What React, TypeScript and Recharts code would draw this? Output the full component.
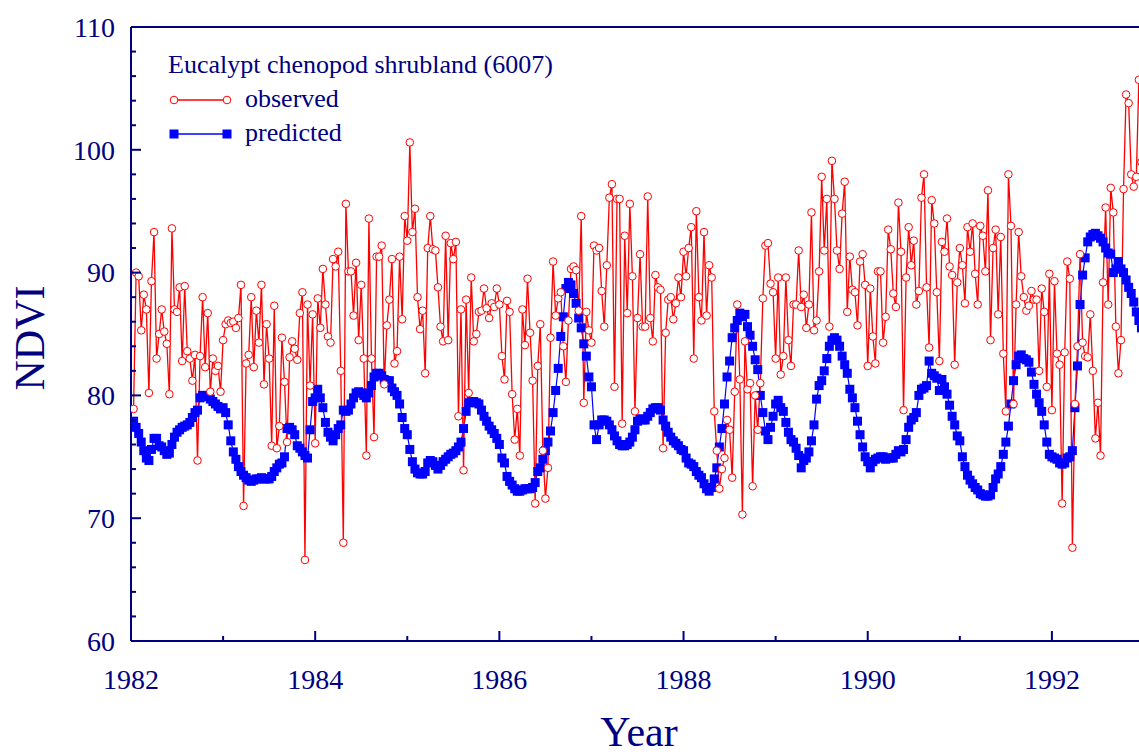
import React from 'react';
import { LineChart, Line, XAxis, YAxis, ReferenceLine, Legend } from 'recharts';

const NAVY = '#000080';
const RED = '#ff0000';
const BLUE = '#0000ff';
const FONT = '"Liberation Serif", "Times New Roman", serif';

// 10-day composites: 36 slots per year, series begins at the second slot of 1982
const SLOTS_PER_YEAR = 36;
const FIRST_SLOT = 1;
const START_YEAR = 1982;

const xTicks = [1982, 1983, 1984, 1985, 1986, 1987, 1988, 1989, 1990, 1991, 1992, 1993];
const yTicks = [60, 62, 64, 66, 68, 70, 72, 74, 76, 78, 80, 82, 84, 86, 88, 90, 92, 94, 96, 98, 100, 102, 104, 106, 108, 110];

// observed NDVI, one array per year
const obs1982 = [78.9, 90.0, 89.7, 85.3, 88.2, 87.0, 80.2, 89.3, 93.3, 83.0, 85.0, 87.0, 85.2, 84.2, 80.1, 93.6, 87.0, 86.8, 88.8, 82.8, 88.9, 83.6, 83.0, 81.2, 83.3, 74.7, 83.2, 88.0, 82.3, 86.7, 80.3, 83.0, 82.0, 82.4, 80.3];
const obs1983 = [84.5, 85.8, 86.1, 85.9, 86.0, 85.5, 86.3, 89.0, 71.0, 82.6, 83.3, 88.0, 82.3, 86.9, 84.3, 89.0, 80.9, 85.8, 83.0, 75.9, 87.3, 75.7, 77.5, 84.7, 81.1, 76.2, 83.1, 84.4, 83.8, 82.9, 86.7, 88.4, 66.6, 87.4, 80.8, 86.6];
const obs1984 = [76.1, 87.9, 85.5, 90.3, 87.4, 84.8, 84.3, 91.1, 90.5, 91.7, 82.0, 68.0, 95.6, 90.1, 90.1, 86.5, 90.8, 84.5, 89.0, 83.0, 75.1, 94.4, 83.0, 76.6, 91.3, 91.3, 92.2, 80.9, 85.7, 87.8, 91.1, 82.6, 83.6, 91.3, 86.2, 94.6];
const obs1985 = [92.6, 100.6, 93.3, 95.2, 88.0, 85.4, 86.9, 81.8, 92.0, 94.6, 91.9, 91.8, 88.8, 85.6, 84.4, 93.0, 84.5, 92.4, 91.1, 92.5, 78.3, 87.0, 73.9, 87.8, 80.2, 89.6, 84.4, 85.0, 86.8, 86.9, 88.7, 87.1, 86.3, 87.5, 87.2, 88.7];
const obs1986 = [87.4, 83.2, 81.3, 87.7, 86.8, 80.1, 76.4, 78.9, 75.1, 87.0, 84.1, 89.5, 85.1, 81.2, 71.2, 82.4, 85.8, 75.5, 71.6, 74.1, 84.7, 90.9, 86.5, 87.9, 88.4, 84.0, 81.1, 86.1, 90.3, 90.5, 90.2, 86.9, 94.6, 79.4, 86.8, 85.3];
const obs1987 = [84.3, 92.2, 91.8, 92.0, 88.5, 85.6, 90.6, 96.1, 97.2, 80.7, 96.0, 96.0, 77.7, 93.0, 86.7, 95.6, 89.7, 78.7, 86.3, 91.5, 85.6, 85.6, 96.2, 86.3, 84.4, 89.8, 88.8, 88.6, 75.7, 85.1, 87.8, 88.0, 86.2, 87.5, 89.6, 88.0];
const obs1988 = [91.7, 89.7, 92.0, 93.7, 83.0, 95.0, 88.0, 86.1, 93.3, 86.5, 90.6, 89.6, 78.7, 75.5, 72.4, 74.0, 74.9, 78.0, 77.2, 73.3, 80.3, 87.4, 81.3, 70.3, 84.4, 80.5, 81.0, 72.6, 80.0, 77.2, 81.0, 87.9, 92.2, 92.4, 89.1, 88.4];
const obs1989 = [83.0, 89.6, 81.7, 83.2, 89.6, 84.5, 82.4, 87.4, 87.4, 91.8, 87.2, 88.2, 85.5, 87.4, 94.9, 85.3, 86.1, 90.1, 97.8, 91.8, 96.0, 85.6, 99.1, 96.0, 91.8, 90.3, 94.8, 97.4, 86.8, 91.3, 88.6, 88.4, 85.7, 90.9, 91.5, 89.0];
const obs1990 = [82.4, 88.7, 84.8, 82.6, 90.1, 90.1, 84.3, 86.4, 93.5, 91.9, 88.3, 87.2, 95.7, 91.7, 78.8, 89.6, 93.7, 90.6, 92.6, 87.4, 88.5, 96.1, 98.0, 88.8, 83.9, 95.9, 94.0, 88.4, 82.8, 92.5, 91.7, 94.4, 90.5, 89.8, 82.5, 89.2];
const obs1991 = [92.0, 90.6, 87.5, 93.7, 91.7, 94.0, 89.9, 87.4, 93.8, 93.0, 90.1, 96.7, 84.5, 92.0, 93.5, 86.6, 92.9, 83.4, 78.7, 98.0, 93.8, 79.3, 87.4, 93.3, 89.7, 88.0, 86.9, 87.3, 88.5, 87.8, 87.8, 82.0, 88.7, 86.8, 80.7, 89.9];
const obs1992 = [78.8, 89.3, 83.4, 82.5, 71.2, 83.5, 90.9, 89.5, 67.6, 79.3, 84.0, 91.5, 84.3, 83.2, 83.1, 86.6, 82.0, 76.5, 79.4, 75.1, 89.2, 95.3, 87.4, 96.9, 94.9, 85.6, 81.8, 84.5, 96.8, 104.5, 103.8, 98.0, 97.0, 97.8, 105.7, 99.0];

// predicted NDVI, one array per year
const pred1982 = [77.9, 77.4, 76.9, 76.2, 75.5, 74.9, 74.7, 75.6, 76.5, 76.5, 75.9, 75.8, 75.5, 75.2, 75.3, 76.0, 76.6, 77.0, 77.2, 77.4, 77.5, 77.6, 77.8, 78.2, 78.6, 78.8, 79.8, 80.0, 80.0, 79.9, 79.7, 79.5, 79.3, 79.1, 78.9];
const pred1983 = [79.0, 78.6, 77.6, 76.3, 75.4, 74.8, 74.2, 73.8, 73.5, 73.3, 73.1, 73.0, 73.1, 73.2, 73.2, 73.3, 73.2, 73.2, 73.2, 73.4, 73.8, 74.1, 74.4, 74.5, 75.0, 77.3, 77.4, 77.2, 76.8, 75.9, 75.7, 75.4, 75.1, 74.9, 77.2, 79.5];
const pred1984 = [79.8, 80.5, 79.8, 79.0, 77.8, 77.0, 76.6, 76.3, 76.8, 77.3, 77.6, 78.8, 78.7, 78.8, 79.3, 79.8, 80.2, 80.3, 80.2, 80.0, 79.8, 80.2, 80.8, 81.5, 81.8, 81.8, 81.6, 81.3, 81.2, 81.2, 80.6, 80.3, 80.0, 79.3, 78.2, 77.3];
const pred1985 = [76.8, 75.6, 74.6, 74.0, 73.7, 73.6, 73.6, 73.8, 74.5, 74.7, 74.6, 74.3, 74.0, 74.3, 74.6, 74.8, 75.0, 75.2, 75.3, 75.5, 75.8, 76.2, 77.3, 78.7, 79.4, 79.5, 79.5, 79.4, 79.3, 78.8, 78.3, 77.9, 77.5, 77.2, 76.9, 76.5];
const pred1986 = [76.0, 74.9, 74.5, 73.4, 73.0, 72.7, 72.4, 72.2, 72.2, 72.3, 72.4, 72.4, 72.4, 72.5, 72.9, 73.8, 74.1, 74.8, 75.5, 76.2, 77.1, 78.6, 80.4, 82.2, 84.8, 86.4, 88.7, 89.2, 89.0, 88.3, 87.5, 86.3, 85.5, 84.2, 83.2, 81.5];
const pred1987 = [80.7, 77.6, 76.4, 77.6, 78.0, 78.0, 77.9, 77.6, 77.2, 76.7, 76.3, 76.0, 75.9, 75.9, 76.0, 76.2, 76.6, 77.2, 77.9, 78.1, 78.0, 78.0, 78.3, 78.6, 78.9, 79.0, 79.0, 78.8, 78.0, 77.5, 77.0, 76.6, 76.3, 76.1, 75.9, 75.6];
const pred1988 = [75.5, 74.9, 74.5, 74.4, 74.2, 73.8, 73.5, 73.3, 72.8, 72.4, 72.2, 72.5, 73.2, 74.1, 75.8, 77.3, 79.3, 81.5, 82.8, 84.7, 85.5, 86.1, 86.7, 86.4, 86.6, 85.6, 84.9, 84.0, 82.9, 82.1, 80.0, 78.6, 77.1, 76.4, 77.4, 78.3];
const pred1989 = [79.3, 79.6, 79.0, 78.7, 77.8, 77.0, 76.4, 76.2, 75.7, 75.1, 74.1, 74.7, 74.9, 75.4, 76.3, 77.6, 79.7, 80.8, 81.2, 82.0, 83.0, 84.0, 84.5, 84.7, 84.5, 84.0, 83.2, 82.5, 81.8, 80.5, 79.8, 79.0, 77.9, 76.8, 75.8, 75.0];
const pred1990 = [74.6, 74.1, 74.6, 74.8, 74.9, 75.0, 75.0, 74.8, 74.9, 74.9, 74.9, 75.2, 75.5, 75.4, 75.6, 76.4, 77.4, 78.0, 78.2, 78.6, 80.0, 80.5, 80.6, 80.8, 82.8, 81.8, 81.6, 81.4, 80.4, 81.3, 80.7, 80.1, 79.2, 78.3, 77.6, 76.7];
const pred1991 = [76.3, 75.0, 74.2, 73.5, 73.1, 72.8, 72.5, 72.3, 72.0, 71.9, 71.8, 71.8, 71.9, 72.5, 73.2, 73.6, 74.2, 75.2, 76.2, 77.5, 79.3, 81.2, 82.5, 83.2, 83.3, 83.0, 82.9, 82.7, 81.9, 80.9, 80.1, 79.4, 78.7, 77.6, 76.2, 75.2];
const pred1992 = [75.0, 74.9, 74.8, 74.5, 74.4, 74.5, 74.9, 75.0, 75.5, 79.0, 82.4, 87.4, 89.8, 91.2, 92.5, 92.9, 93.1, 93.2, 93.0, 92.8, 92.5, 92.0, 91.6, 91.5, 90.0, 90.3, 90.9, 90.3, 90.0, 89.4, 88.8, 88.3, 87.6, 86.8, 86.1, 85.5];

const observedByYear = [obs1982, obs1983, obs1984, obs1985, obs1986, obs1987, obs1988, obs1989, obs1990, obs1991, obs1992];
const predictedByYear = [pred1982, pred1983, pred1984, pred1985, pred1986, pred1987, pred1988, pred1989, pred1990, pred1991, pred1992];

const observed = observedByYear.flat();
const predicted = predictedByYear.flat();

const chartData = observed.map((v, k) => ({
  t: START_YEAR + (k + FIRST_SLOT) / SLOTS_PER_YEAR,
  observed: v,
  predicted: predicted[k],
}));

const textStyle = { fontFamily: FONT, fill: NAVY };

// ticks point inward; labels only on major ticks
const XTick = (props: any) => {
  const { x, y, payload } = props;
  const major = payload.value % 2 === 0;
  return (
    <g>
      <line x1={x} x2={x} y1={y} y2={y - (major ? 10 : 5)} stroke={NAVY} strokeWidth={2} />
      {major && (
        <text x={x} y={y + 48} textAnchor="middle" fontSize={28} style={textStyle}>
          {payload.value}
        </text>
      )}
    </g>
  );
};

const YTick = (props: any) => {
  const { x, y, payload } = props;
  const major = payload.value % 10 === 0;
  return (
    <g>
      <line x1={x} x2={x + (major ? 10 : 5)} y1={y} y2={y} stroke={NAVY} strokeWidth={2} />
      {major && (
        <text x={x - 16} y={y} dy="0.35em" textAnchor="end" fontSize={28} style={textStyle}>
          {payload.value}
        </text>
      )}
    </g>
  );
};

const YearLabel = () => (
  <text x={639} y={746} textAnchor="middle" fontSize={42} style={textStyle}>Year</text>
);

const NdviLabel = () => (
  <text x={44} y={338} textAnchor="middle" fontSize={42} style={textStyle} transform="rotate(-90, 44, 338)">NDVI</text>
);

const SquareDot = (props: any) => {
  const { cx, cy, index } = props;
  if (cx == null || cy == null) return <g key={`sq-${index}`} />;
  return <rect key={`sq-${index}`} x={cx - 4.5} y={cy - 4.5} width={9} height={9} fill={BLUE} />;
};

const LegendBox = () => (
  <svg width={600} height={160} style={{ display: 'block' }}>
    <text x={168} y={73} fontSize={26} style={textStyle}>
      Eucalypt chenopod shrubland (6007)
    </text>
    <line x1={174} x2={227} y1={100} y2={100} stroke={RED} strokeWidth={1.3} />
    <circle cx={174} cy={100} r={3.8} fill="#fff" stroke={RED} strokeWidth={1} />
    <circle cx={227} cy={100} r={3.8} fill="#fff" stroke={RED} strokeWidth={1} />
    <text x={245} y={107} fontSize={26} style={textStyle}>observed</text>
    <line x1={174} x2={227} y1={134} y2={134} stroke={BLUE} strokeWidth={1.3} />
    <rect x={169.5} y={129.5} width={9} height={9} fill={BLUE} />
    <rect x={222.5} y={129.5} width={9} height={9} fill={BLUE} />
    <text x={245} y={141} fontSize={26} style={textStyle}>predicted</text>
  </svg>
);

const App: React.FC = () => {
  return (
    <div style={{ position: 'fixed', left: 0, top: 0, width: 1139, height: 756, overflow: 'hidden', background: '#fff' }}>
      <LineChart width={1165} height={756} data={chartData} margin={{ top: 27, right: 21, left: 0, bottom: 0 }}>
        <XAxis
          dataKey="t"
          type="number"
          domain={[1982, 1993]}
          ticks={xTicks}
          interval={0}
          allowDataOverflow
          height={115}
          tickSize={0}
          tickMargin={0}
          tickLine={false}
          tick={XTick}
          axisLine={{ stroke: NAVY, strokeWidth: 2 }}
          label={YearLabel}
        />
        <YAxis
          domain={[60, 110]}
          ticks={yTicks}
          interval={0}
          allowDataOverflow
          width={131}
          tickSize={0}
          tickMargin={0}
          tickLine={false}
          tick={YTick}
          axisLine={{ stroke: NAVY, strokeWidth: 2 }}
          label={NdviLabel}
        />
        <ReferenceLine y={110} stroke={NAVY} strokeWidth={2} />
        <ReferenceLine x={1993} stroke={NAVY} strokeWidth={2} />

        <Line
          dataKey="predicted"
          name="predicted"
          stroke={BLUE}
          strokeWidth={1.2}
          dot={SquareDot}
          activeDot={false}
          isAnimationActive={false}
        />
        <Line
          dataKey="observed"
          name="observed"
          stroke={RED}
          strokeWidth={1.3}
          dot={{ r: 3.8, fill: '#fff', stroke: RED, strokeWidth: 1 }}
          activeDot={false}
          isAnimationActive={false}
        />

        <Legend
          layout="horizontal"
          verticalAlign="middle"
          align="center"
          content={LegendBox}
          wrapperStyle={{ left: 0, top: 0, width: 600, height: 160 }}
        />
      </LineChart>
    </div>
  );
};

export default App;
